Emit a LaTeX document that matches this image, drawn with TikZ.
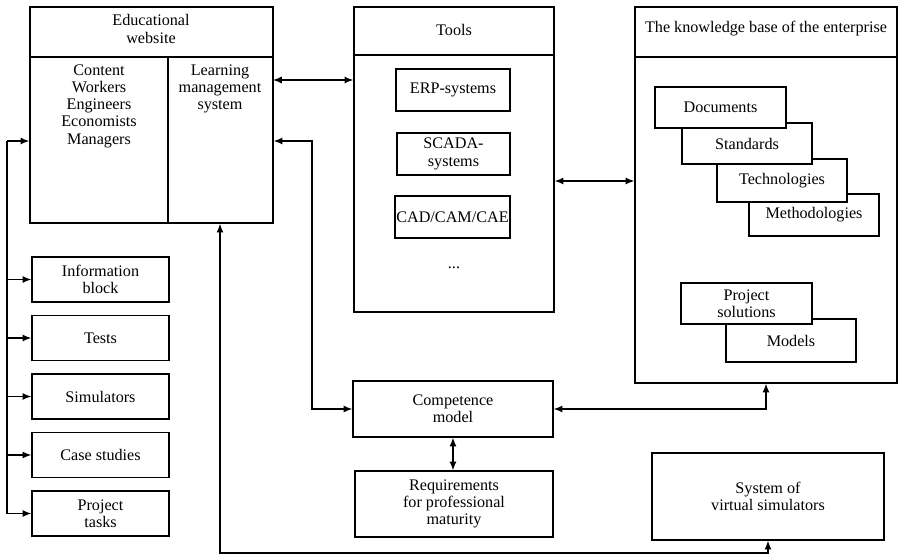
\documentclass[tikz,border=0pt]{standalone}
\usepackage{fontspec}
\setmainfont{Liberation Serif}
\usetikzlibrary{arrows.meta}
\begin{document}
\begin{tikzpicture}[x=0.02cm,y=-0.02cm,
        font=\rmfamily\fontsize{9.2}{9.8}\selectfont,
        >={Latex[length=5pt,width=4pt]},
        blk/.style 2 args={draw,fill=white,line width=0.8pt,minimum width=#1*0.02cm,minimum height=#2*0.02cm,inner sep=0pt,align=center},
        txt/.style={align=center,inner sep=0pt},
        conn/.style={line width=0.7pt}]
                \useasboundingbox (0,0) rectangle (900,557);
                \node[blk={243}{216}] (web) at (151.5,115) {};
                \draw[line width=0.8pt] (30,57) -- (273,57) (168,57) -- (168,223);
                \node[txt] (webt) at (151,29) {Educational\\website};
                \node[txt] (staff) at (99,106) {Content\\Workers\\Engineers\\Economists\\Managers};
                \node[txt] (lms) at (220,89) {Learning\\management\\system};
                \node[blk={200}{305}] (tools) at (454,159.5) {};
                \draw[line width=0.8pt] (354,55) -- (554,55);
                \node[txt] (toolst) at (454,30) {Tools};
                \node[blk={114}{42}] (erp) at (453,90) {ERP-systems};
                \node[blk={113}{42}] (scada) at (453.5,154) {SCADA-\\systems};
                \node[blk={115}{42}] (cad) at (452.5,217) {CAD/CAM/CAE};
                \node[txt] (more) at (454,268) {...};
                \node[blk={262}{376}] (kb) at (766,195) {};
                \draw[line width=0.8pt] (635,57) -- (897,57);
                \node[txt] (kbt) at (766,29) {The knowledge base of the enterprise};
                \node[blk={130}{42}] (meth) at (814,215) {Methodologies};
                \node[blk={130}{43}] (tech) at (782,180.5) {Technologies};
                \node[blk={130}{41}] (stand) at (747,143.5) {Standards};
                \node[blk={131}{41}] (docs) at (720.5,107.5) {Documents};
                \node[blk={130}{43}] (models) at (791,340.5) {Models};
                \node[blk={131}{41}] (psol) at (746.5,303.5) {Project\\solutions};
                \node[blk={200}{56}] (comp) at (453,409) {Competence\\model};
                \node[blk={198}{66}] (req) at (454,504) {Requirements\\for professional\\maturity};
                \node[blk={232}{87}] (sim) at (768,496.5) {System of\\virtual simulators};
                \foreach \n/\t [count=\i from 0] in {info/{Information\\block},tests/Tests,simul/Simulators,cases/Case studies,ptasks/{Project\\tasks}}
                    \node[blk={137}{45}] (\n) at (100.5,279.5+58.5*\i) {\t};
                \coordinate (a1) at (273,80);
                \draw[conn,<->] (a1) -- (a1 -| tools.west);
                \coordinate (b1) at (312,141);
                \draw[conn,<->] (comp.west) -| (b1) -- (b1 -| web.east);
                \coordinate (c1) at (595,181);
                \draw[conn,<->] (c1 -| tools.east) -- (c1 -| kb.west);
                \draw[conn,<->] (comp.east) -| (kb.south);
                \draw[conn,<->] (comp.south) -- (comp.south |- req.north);
                \coordinate (d1) at (220,553);
                \draw[conn,<->] (sim.south) |- (d1) -- (d1 |- web.south);
                \coordinate (bus) at (7,141);
                \draw[conn,->] (bus) -- (bus -| web.west);
                \foreach \n in {info,tests,simul,cases,ptasks}
                    \draw[conn,->] (bus) |- (\n.west);
            \end{tikzpicture}
\end{document}
